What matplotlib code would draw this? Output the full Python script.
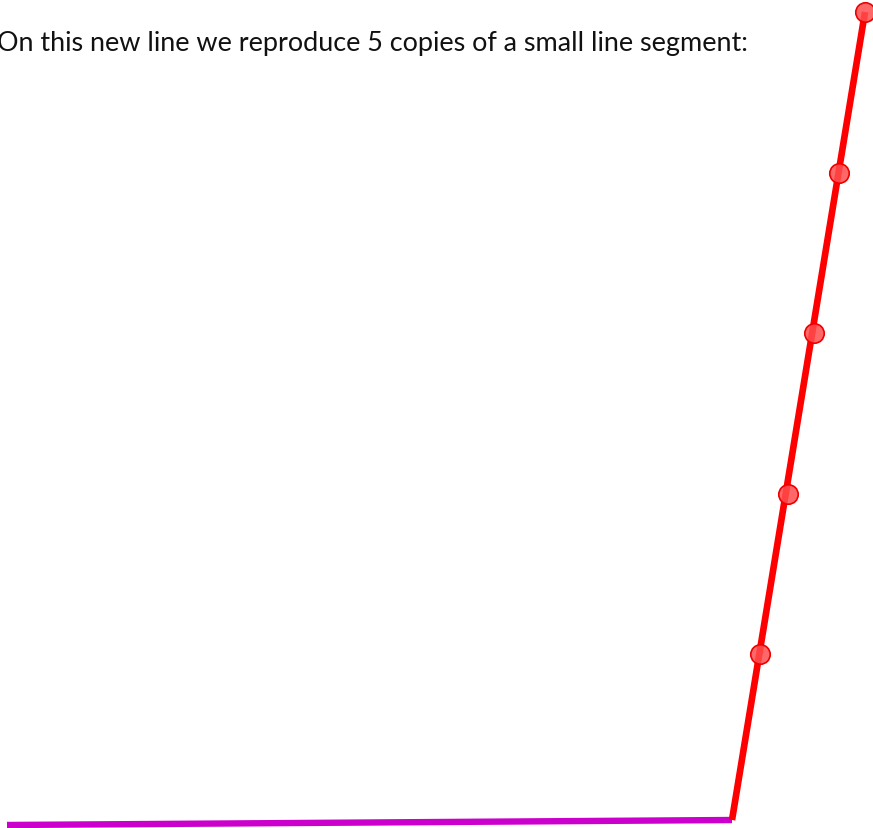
import matplotlib
matplotlib.use("Agg")
import matplotlib.pyplot as plt

W, H = 873, 829
caption = "On this new line we reproduce 5 copies of a small line segment:"

# base (magenta) segment
base_x = [7, 732]
base_y = [826, 821]
# red line and copy points
red_x = [732, 865]
red_y = [821, 13]
pts_x = [760, 788, 814, 839, 865]
pts_y = [655, 495, 334, 174, 13]

fig = plt.figure(figsize=(W / 100, H / 100), dpi=100)
ax = fig.add_axes([0, 0, 1, 1])
ax.set_xlim(0, W)
ax.set_ylim(H, 0)
ax.axis("off")

ax.plot(base_x, base_y, color="#cc00cc", lw=4.6, solid_capstyle="butt", zorder=2)
ax.plot(red_x, red_y, color="#ff0000", lw=4.8, solid_capstyle="butt", zorder=3)
ax.plot(pts_x, pts_y, ls="none", marker="o", ms=14, mfc=(1, 0.3, 0.3, 0.85),
        mec="#ee0000", mew=1.2, zorder=4)

t = ax.text(-3, 51, caption, fontsize=20, family=["Lato", "DejaVu Sans"],
            color="#111111", va="baseline", ha="left")
fig.canvas.draw()
bb = t.get_window_extent()
target = 753
t.set_fontsize(20 * target / bb.width)

fig.savefig("out.png", dpi=100)
